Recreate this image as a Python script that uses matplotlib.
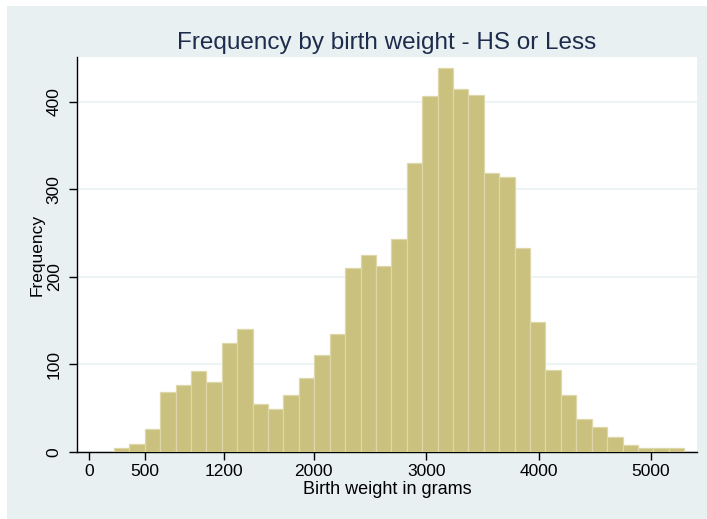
import numpy as np
import matplotlib.pyplot as plt
from matplotlib.patches import Rectangle

# histogram counts (37 bins)
counts = [4, 9, 26, 69, 77, 93, 80, 125, 141, 55, 49, 65, 84, 111, 135,
          210, 225, 212, 243, 330, 406, 438, 414, 408, 319, 314, 233, 148,
          94, 65, 38, 28, 17, 8, 4, 4, 4]
bin_start = 222
bin_width = 137.1
xticks = [0, 500, 1200, 2000, 3000, 4000, 5000]
yticks = [0, 100, 200, 300, 400]

plt.rcParams['font.family'] = ['Liberation Sans', 'DejaVu Sans']

bg = '#e8f0f2'
fig = plt.figure(figsize=(7.07, 5.19), dpi=100)
fig.patch.set_facecolor(bg)
# white strips at top and left (page margin)
fig.patches.append(Rectangle((0, 1 - 6 / 519), 1, 6 / 519, transform=fig.transFigure,
                             facecolor='white', edgecolor='none', zorder=-5))
fig.patches.append(Rectangle((0, 0), 7 / 707, 1, transform=fig.transFigure,
                             facecolor='white', edgecolor='none', zorder=-5))

ax = fig.add_axes([77 / 707, 1 - 452 / 519, 620 / 707, 395 / 519])
ax.set_facecolor('white')

edges = bin_start + bin_width * np.arange(len(counts))
ax.bar(edges, counts, width=bin_width, align='edge', color='#c9c17d',
       edgecolor='#ddd7a9', linewidth=0.9, zorder=3)

ax.set_xlim(-107, 5409)
ax.set_ylim(0, 451)
ax.set_xticks(xticks)
ax.set_yticks(yticks)
ax.set_yticklabels([str(v) for v in yticks], rotation=90, va='center')
ax.grid(axis='y', color='#eaf2f3', linewidth=1.2, zorder=0)

for s in ['top', 'right']:
    ax.spines[s].set_visible(False)
for s in ['left', 'bottom']:
    ax.spines[s].set_color('black')
    ax.spines[s].set_linewidth(1.0)
ax.tick_params(axis='both', direction='out', length=6, width=1, colors='black',
               labelsize=12.5)
ax.tick_params(axis='x', pad=3)
ax.tick_params(axis='y', pad=5)

ax.set_xlabel('Birth weight in grams', fontsize=13, va='center')
ax.xaxis.set_label_coords(0.5, -(490 - 452) / 395)
ax.set_ylabel('Frequency', fontsize=12.5, va='center')
ax.yaxis.set_label_coords((37 - 77) / 620, 0.5)
ax.set_title('Frequency by birth weight - HS or Less', fontsize=17.5,
             color='#1e2c4c', pad=6)

fig.savefig('out.png', dpi=100, facecolor=fig.get_facecolor())
